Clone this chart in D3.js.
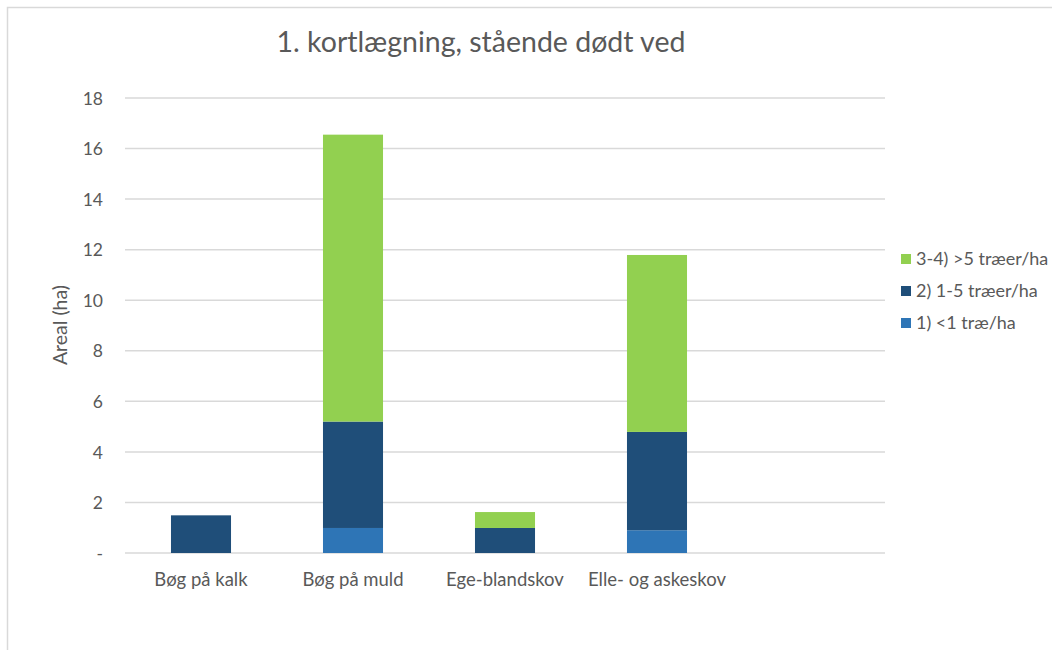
<!DOCTYPE html>
<html><head><meta charset="utf-8">
<script src="https://cdn.jsdelivr.net/npm/d3@7"></script>
<style>body{margin:0;background:#fff;} text{font-family:Lato,"Open Sans",sans-serif;fill:#595959;}</style>
</head><body>
<svg id="c" width="1052" height="650"></svg>
<script>
const categories = ["Bøg på kalk", "Bøg på muld", "Ege-blandskov", "Elle- og askeskov", ""];
const lessThan1 = [0, 0.99, 0, 0.90, 0];
const oneToFive = [1.49, 4.21, 0.99, 3.89, 0];
const moreThan5 = [0, 11.35, 0.63, 7.0, 0];
const seriesNames = ["1) <1 træ/ha", "2) 1-5 træer/ha", "3-4) >5 træer/ha"];
const seriesColors = ["#2e75b6", "#1f4e79", "#92d050"];
const yTicks = [0, 2, 4, 6, 8, 10, 12, 14, 16, 18];
const title = "1. kortlægning, stående dødt ved";
const yTitle = "Areal (ha)";

const svg = d3.select("#c");
svg.append("rect").attr("x", 7.5).attr("y", 7.5).attr("width", 1100).attr("height", 700)
  .attr("fill", "#fff").attr("stroke", "#d9d9d9").attr("stroke-width", 1.5);

const L = 125, R = 885, T = 98, B = 553;
const x = d3.scaleBand().domain(categories.map((c, i) => i)).range([L, R]).paddingInner(0.605).paddingOuter(0.3025);
const y = d3.scaleLinear().domain([0, 18]).range([B, T]);

// gridlines
svg.append("g").selectAll("line").data(yTicks).join("line")
  .attr("x1", L).attr("x2", R).attr("y1", d => y(d)).attr("y2", d => y(d))
  .attr("stroke", "#d9d9d9").attr("stroke-width", 1.5);

// y axis labels
const yAxis = d3.axisLeft(y).tickValues(yTicks).tickSize(0).tickPadding(0)
  .tickFormat(d => d === 0 ? "-" : d);
const gy = svg.append("g").attr("transform", `translate(103,0)`).call(yAxis);
gy.select(".domain").remove();
gy.selectAll("text").style("font-size", "17.5px").attr("fill", "#595959").attr("dy", "0.35em");

// stacked bars
const rows = categories.map((c, i) => ({ i, a: lessThan1[i], b: oneToFive[i], c: moreThan5[i] }));
const stack = d3.stack().keys(["a", "b", "c"])(rows);
stack.forEach((s, k) => {
  svg.append("g").selectAll("rect").data(s.filter(d => d[1] - d[0] > 0)).join("rect")
    .attr("x", d => x(d.data.i)).attr("width", x.bandwidth())
    .attr("y", d => y(d[1])).attr("height", d => y(d[0]) - y(d[1]))
    .attr("fill", seriesColors[k]);
});

// x labels
const xAxis = d3.axisBottom(x).tickSize(0).tickPadding(0).tickFormat(i => categories[i]);
const gx = svg.append("g").attr("transform", `translate(0,${B + 27})`).call(xAxis);
gx.select(".domain").remove();
gx.selectAll("text").style("font-size", "18.5px").attr("fill", "#595959").attr("dy", "0.35em");

// title
svg.append("text").attr("x", 481).attr("y", 52).attr("text-anchor", "middle")
  .style("font-size", "28.5px").text(title);

// y title
svg.append("text").attr("transform", "translate(67,325) rotate(-90)").attr("text-anchor", "middle")
  .style("font-size", "19.5px").text(yTitle);

// legend (reversed order)
const legendY = [259, 291, 323];
[2, 1, 0].forEach((k, j) => {
  svg.append("rect").attr("x", 901).attr("y", legendY[j] - 5).attr("width", 10).attr("height", 10).attr("fill", seriesColors[k]);
  svg.append("text").attr("x", 916).attr("y", legendY[j]).attr("dy", "0.35em").style("font-size", "18px").text(seriesNames[k]);
});
</script>
</body></html>
